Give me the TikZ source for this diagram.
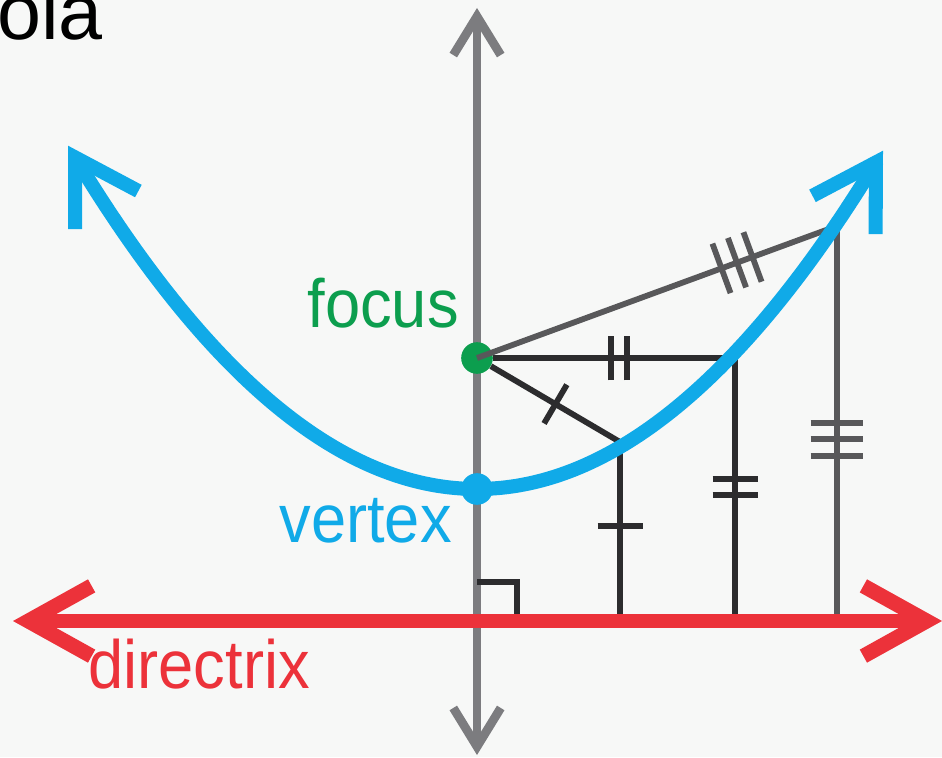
\documentclass[tikz,border=0pt]{standalone}
\usepackage{fontspec}
\setmainfont{Liberation Sans}
\usepackage{xcolor}
\usetikzlibrary{positioning,arrows.meta,decorations.markings,calc}
\definecolor{axisgray}{RGB}{124,124,127}
\definecolor{dirred}{RGB}{236,50,58}
\definecolor{parblue}{RGB}{16,170,232}
\definecolor{focgreen}{RGB}{12,158,78}
\definecolor{segdark}{RGB}{44,44,46}
\definecolor{seggray}{RGB}{88,88,90}
\definecolor{paper}{RGB}{247,248,247}
\tikzset{
  dirtip/.tip={Straight Barb[length=36pt,width=40pt]},
  axistip/.tip={Straight Barb[length=22pt,width=27pt]},
  curvetip/.tip={Straight Barb[length=35pt,width=42pt]},
  seg/.style={line width=3.3pt,line join=miter},
  tickmark/.style={line width=3.3pt},
  tickone/.style={postaction={decorate,decoration={markings,mark=at position #1 with {\draw[tickmark] (0pt,-12.8pt)--(0pt,12.8pt);}}}},
  ticktwo/.style={postaction={decorate,decoration={markings,mark=at position #1 with {\draw[tickmark] (-4.4pt,-12.8pt)--(-4.4pt,12.8pt) (4.4pt,-12.8pt)--(4.4pt,12.8pt);}}}},
  tickthree/.style={postaction={decorate,decoration={markings,mark=at position #1 with {\draw[tickmark] (-9.4pt,-15pt)--(-9.4pt,15pt) (0pt,-15pt)--(0pt,15pt) (9.4pt,-15pt)--(9.4pt,15pt);}}}},
  dot/.style={circle,inner sep=0pt,minimum size=18pt},
  lbl/.style={font=\fontsize{36}{42}\selectfont,inner sep=0pt},
}
\newcommand{\tall}[1]{\scalebox{1}[1.08]{#1}}
\begin{document}
\begin{tikzpicture}[x=0.02cm,y=-0.02cm]
\useasboundingbox (0,0) rectangle (942,757);
\fill[paper] (0,0) rectangle (942,757);
% title, cut at the edge
\node[lbl,font=\fontsize{45}{52}\selectfont,anchor=base west] (title) at (-3,40) {ola};
% axis of symmetry
\coordinate (axtop) at (477,8);
\coordinate (axbot) at (477,755);
\draw[axisgray,line width=5pt,axistip-axistip] (axtop) -- (axbot);
% focus
\node[dot,fill=focgreen] (focus) at (477,358) {};
% points on the curve and their feet on the directrix
\coordinate (P1) at (620,442); \coordinate (D1) at (620,621);
\coordinate (P2) at (735,358); \coordinate (D2) at (735,621);
\coordinate (P3) at (837,226); \coordinate (D3) at (837,621);
\draw[seg,segdark] (focus) -- (P1) -- (D1);
\draw[seg,segdark] (focus) -- (P2) -- (D2);
\draw[seg,seggray] (focus.center) -- (P3) -- (D3);
% equal-length marks
\path[segdark,tickone=0.5] (focus) -- (P1);
\path[segdark,tickone=0.47] (P1) -- (D1);
\path[segdark,ticktwo=0.52] (focus) -- (P2);
\path[segdark,ticktwo=0.49] (P2) -- (D2);
\path[seggray,tickthree=0.71] (focus) -- (P3);
\path[seggray,tickthree=0.54] (P3) -- (D3);
% right angle
\coordinate (RA1) at (477,582); \coordinate (RA2) at (517,582); \coordinate (RA3) at (517,621);
\draw[seg,segdark] (RA1) -- (RA2) -- (RA3);
% parabola
\draw[parblue,line width=8pt,curvetip-curvetip] plot[domain=-409:406,samples=61,smooth] ({477+\x},{489-(0.0453*\x)*(0.0453*\x)});
% directrix
\coordinate (dirL) at (13,621);
\coordinate (dirR) at (942,621);
\draw[dirred,line width=8.5pt,dirtip-dirtip] (dirL) -- (dirR);
% vertex
\node[dot,fill=parblue] (vertex) at (477,489) {};
% labels
\node[lbl,text=focgreen,anchor=base east] (focuslbl) at (459,327) {\tall{focus}};
\node[lbl,text=parblue,anchor=base east] (vertexlbl) at (452,542) {\tall{vertex}};
\node[lbl,text=dirred,anchor=base west] (dirlbl) at (88,688) {\tall{directrix}};
\end{tikzpicture}
\end{document}
